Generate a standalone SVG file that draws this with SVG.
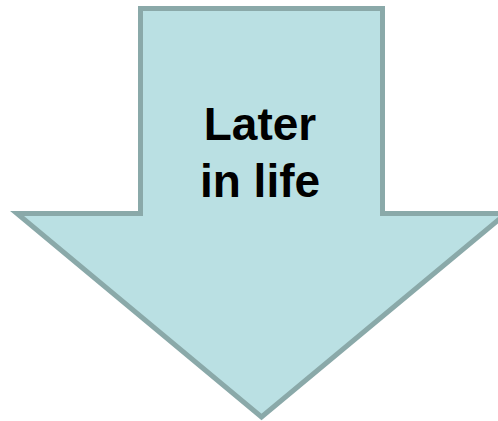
<svg xmlns="http://www.w3.org/2000/svg" width="498" height="421" viewBox="0 0 498 421">
<style>
.arrow{fill:#bae0e3;stroke:#8aa9a9;stroke-width:5;stroke-linejoin:miter}
.lbl{font-family:"Liberation Sans",Arial,sans-serif;font-weight:bold;font-size:46px;fill:#000;text-anchor:middle}
</style>
<g id="arrow-node">
<polygon class="arrow" points="140.5,8.5 382.5,8.5 382.5,213.5 506,213.5 261.5,417 17,213.5 140.5,213.5"/>
<text class="lbl" x="260" y="140">Later</text>
<text class="lbl" x="260" y="197">in life</text>
</g>
<g id="connectors"></g>
</svg>
